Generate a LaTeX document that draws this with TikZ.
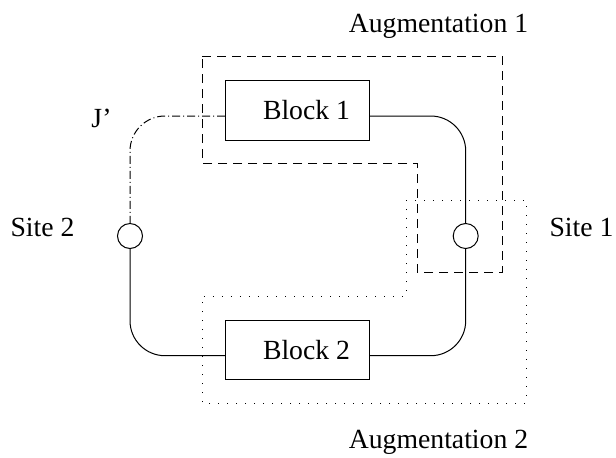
\documentclass[tikz,border=0pt]{standalone}
\usepackage{fontspec}
\setmainfont{Liberation Serif}
\usepackage{tikz}

\tikzset{
	block/.style={draw, minimum width=71.8pt, minimum height=29.7pt, inner sep=0pt},
	site/.style={draw, circle, minimum size=12.5pt, inner sep=0pt},
	augone/.style={dash pattern=on 4.5pt off 3pt},
	augtwo/.style={dash pattern=on 0.6pt off 3.9pt},
	coupling/.style={dash pattern=on 4pt off 1.5pt on 0.5pt off 1.5pt},
}

\begin{document}
\begin{tikzpicture}[x=0.5pt, y=-0.5pt, line width=0.5pt,
	font=\fontsize{13.85}{16}\selectfont]
	\useasboundingbox (0,0) rectangle (616,457);

	% blocks and sites
	\node[block] (block1) at (297.5,110.3) {\hspace*{9pt}Block 1};
	\node[block] (block2) at (297.5,350) {\hspace*{9pt}Block 2};
	\node[site] (site1) at (465.7,236) {};
	\node[site] (site2) at (130,236) {};

	% links
	\draw[rounded corners=17.5pt] ([yshift=-2.85pt]block1.east) -| (site1.north);
	\draw[rounded corners=17.5pt] (site1.south) |- ([yshift=-2.85pt]block2.east);
	\draw[rounded corners=17.5pt] (site2.south) |- ([yshift=-2.85pt]block2.west);
	\draw[coupling, rounded corners=17.5pt] ([yshift=-2.85pt]block1.west) -| (site2.north);

	% augmentations
	\draw[augone] (202,56)--(502,56)--(502,272)--(417,272)--(417,163)--(202,163)--cycle;
	\draw[augtwo] (406,200)--(526,200)--(526,403)--(202,403)--(202,296)--(406,296)--cycle;

	% labels
	\node[anchor=base] (aug1) at (438.5,32.7) {Augmentation 1};
	\node[anchor=base] (aug2) at (438.5,448) {Augmentation 2};
	\node[anchor=base] (lsite2) at (42.5,236) {Site 2};
	\node[anchor=base] (lsite1) at (581.5,236) {Site 1};
	\node[anchor=base] (jprime) at (101.5,127) {J'};
\end{tikzpicture}
\end{document}
